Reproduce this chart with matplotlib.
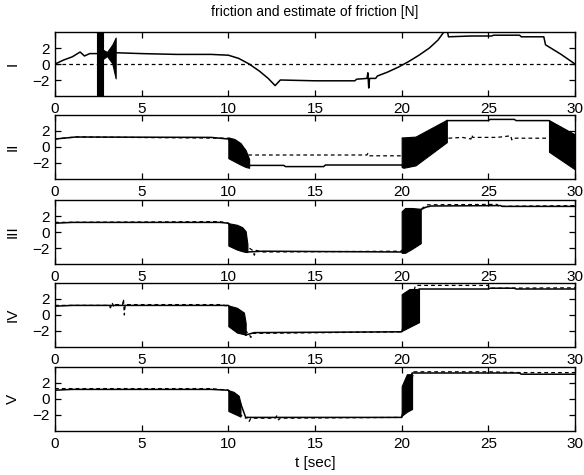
import matplotlib.pyplot as plt
import numpy as np

plt.rcParams['font.family'] = ['Liberation Sans', 'DejaVu Sans']

# ---- panel I ----
t_f1 = [0, 0.5, 1.0, 1.45, 1.7, 2.0, 2.4, 3.6, 5, 7, 9, 10, 10.6, 11.2, 11.8, 12.3, 12.7,
        13.0, 15, 17.3, 17.4, 18.0, 18.05, 18.1, 18.15, 18.5, 18.6, 19.2, 19.8, 20.4,
        21.0, 21.6, 22.1, 22.6, 22.7, 24.0, 25.2, 25.3, 26.8, 26.9, 28.2, 28.3, 29.2, 30]
f1 = [0, 0.5, 0.9, 1.5, 1.0, 1.3, 1.3, 1.4, 1.3, 1.2, 1.2, 1.1, 0.7, 0.0, -0.9, -1.8, -2.7,
      -2.0, -2.1, -2.1, -1.9, -1.8, -1.1, -3.0, -1.8, -1.8, -1.5, -1.0, -0.4, 0.3,
      1.1, 2.0, 3.0, 4.5, 3.4, 3.5, 3.5, 3.6, 3.6, 3.4, 3.4, 2.4, 1.2, 0.0]
t_e1 = [0, 30]
e1 = [0, 0]
bands1 = [([2.45, 2.75], [4.5, 4.5], [-4.5, -4.5]),
          ([2.75, 3.0, 3.3, 3.5], [1.8, 1.5, 2.4, 3.3], [0.6, 1.0, 0.1, -1.8])]

# ---- panel II ----
t_f2 = [0, 1.2, 9, 10, 11.2, 13.2, 13.3, 15.5, 15.6, 20.0, 20.1, 22.6, 22.6, 25, 25.1,
        26.5, 26.6, 28.5, 30]
f2 = [1.0, 1.25, 1.2, 1.0, -2.3, -2.3, -2.45, -2.45, -2.25, -2.25, -2.5, 0.6, 3.3, 3.3,
      3.45, 3.45, 3.3, 3.3, 1.5]
t_e2 = [0, 1.2, 10, 11.2, 18.0, 18.05, 18.1, 20.0, None, 22.7, 23.5, 24.0, 24.05, 24.1,
        25.5, 26.3, 26.35, 26.4, 28.4]
e2 = [1.0, 1.25, 1.1, -1.0, -1.0, -0.8, -1.1, -1.1, None, 1.1, 1.2, 1.0, 1.5, 1.2,
      1.2, 1.4, 0.9, 1.1, 1.1]
bands2 = [([10.0, 10.35, 10.7, 11.0, 11.2], [1.2, 1.0, 0.5, -0.4, -1.5], [-1.4, -1.8, -2.2, -2.5, -2.6]),
          ([20.0, 20.1, 20.8, 22.6], [1.2, 1.2, 1.3, 3.4], [-2.5, -2.6, -2.3, 0.6]),
          ([28.5, 30.0], [3.3, 1.5], [-0.6, -2.8])]

# ---- panel III ----
t_f3 = [0, 1, 9.5, 10, 11.1, 12, 20, 20.1, 21.1, 21.4, 21.7, 25.7, 25.8, 30]
f3 = [1.1, 1.2, 1.2, 1.1, -2.5, -2.4, -2.5, -2.6, 2.8, 3.1, 3.25, 3.3, 3.2, 3.2]
t_e3 = [0, 9.5, 10, 11.2, 11.4, 11.5, 11.6, 12, 20, 21.2, 21.5, 25.5, 25.6, 30]
e3 = [1.2, 1.3, 1.1, -2.0, -2.3, -2.9, -2.3, -2.5, -2.4, 3.0, 3.4, 3.45, 3.2, 3.3]
bands3 = [([10.0, 10.5, 10.8, 11.0, 11.1], [1.1, 0.9, 0.6, 0.1, -1.5], [-1.7, -2.2, -2.4, -2.5, -2.5]),
          ([20.0, 20.2, 20.6, 21.1], [2.6, 3.0, 3.0, 2.9], [-2.6, -2.6, -2.1, -1.4])]

# ---- panel IV ----
t_f4 = [0, 1, 10, 11.0, 11.5, 20.0, 21.0, 25, 25.1, 26.5, 26.6, 30]
f4 = [1.1, 1.2, 1.2, -2.5, -2.2, -2.1, 3.25, 3.25, 3.35, 3.35, 3.25, 3.25]
t_e4 = [0, 3.1, 3.2, 3.3, 3.4, 3.5, 3.9, 3.95, 4.0, 4.05, 9.5, 10, 11.0, 11.2, 11.3,
        11.4, 20.0, 20.8, 25, 25.1, 30]
e4 = [1.2, 1.2, 0.9, 1.5, 1.0, 1.3, 1.3, 2.0, 0.0, 1.3, 1.3, 1.1, -2.0, -2.4, -2.8,
      -2.3, -2.1, 3.7, 3.7, 3.35, 3.4]
bands4 = [([10.0, 10.5, 10.9, 11.0], [1.2, 0.9, 0.3, -1.0], [-1.4, -2.2, -2.4, -2.5]),
          ([20.0, 20.45, 21.0], [2.6, 3.25, 3.25], [-2.0, -1.5, -0.9])]

# ---- panel V ----
t_f5 = [0, 1, 9, 10, 10.7, 11.0, 20.0, 20.6, 26.8, 26.9, 30]
f5 = [1.1, 1.2, 1.2, 1.1, -0.5, -2.3, -2.3, 3.25, 3.25, 3.1, 3.1]
t_e5 = [0, 9, 10, 10.7, 11.0, 11.1, 11.2, 11.3, 12.7, 12.8, 12.9, 13.0, 20, 20.7, 25,
        26.8, 30]
e5 = [1.3, 1.3, 1.1, -2.0, -2.4, -2.3, -2.8, -2.4, -2.4, -2.1, -2.6, -2.4, -2.3, 3.4, 3.4,
      3.3, 3.3]
bands5 = [([10.0, 10.3, 10.6, 10.7], [1.1, 0.9, 0.4, -0.5], [-1.5, -1.8, -2.1, -2.2]),
          ([20.0, 20.3, 20.6], [1.6, 3.1, 3.1], [-2.1, -1.6, -1.25])]

panels = [
    ('I', t_f1, f1, t_e1, e1, bands1),
    ('II', t_f2, f2, t_e2, e2, bands2),
    ('III', t_f3, f3, t_e3, e3, bands3),
    ('IV', t_f4, f4, t_e4, e4, bands4),
    ('V', t_f5, f5, t_e5, e5, bands5),
]

xticks = [0, 5, 10, 15, 20, 25, 30]
yticks = [-2, 0, 2]

W, H = 584, 475
fig = plt.figure(figsize=(W / 100, H / 100), dpi=100)

tops = [32, 115, 200, 283, 367]
left, right = 55, 575
ph = 64

for (name, tf, f, te, e, bands), top in zip(panels, tops):
    ax = fig.add_axes([left / W, 1 - (top + ph) / H, (right - left) / W, ph / H])
    for bt, hi, lo in bands:
        ax.fill_between(bt, lo, hi, color='black', lw=0.8, ec='black')
    te_arr = np.array([np.nan if v is None else v for v in te], dtype=float)
    e_arr = np.array([np.nan if v is None else v for v in e], dtype=float)
    ax.plot(te_arr, e_arr, color='black', lw=0.9, ls=(0, (3, 2.5)))
    ax.plot(tf, f, color='black', lw=1.1)
    ax.set_xlim(0, 30)
    ax.set_ylim(-4, 4)
    ax.set_xticks(xticks)
    ax.set_yticks(yticks)
    ax.tick_params(direction='in', top=True, right=True, length=4, width=0.9,
                   labelsize=11, pad=4)
    for s in ax.spines.values():
        s.set_linewidth(1.0)
    fig.text(13 / W, 1 - (top + ph / 2) / H, name, rotation=90, fontsize=11,
             ha='center', va='center')

fig.text(315 / W, 1 - 12 / H, 'friction and estimate of friction [N]', fontsize=10,
         ha='center', va='center')
fig.text(315 / W, 1 - 463 / H, 't [sec]', fontsize=11, ha='center', va='center')

fig.savefig('out.png', dpi=100)
